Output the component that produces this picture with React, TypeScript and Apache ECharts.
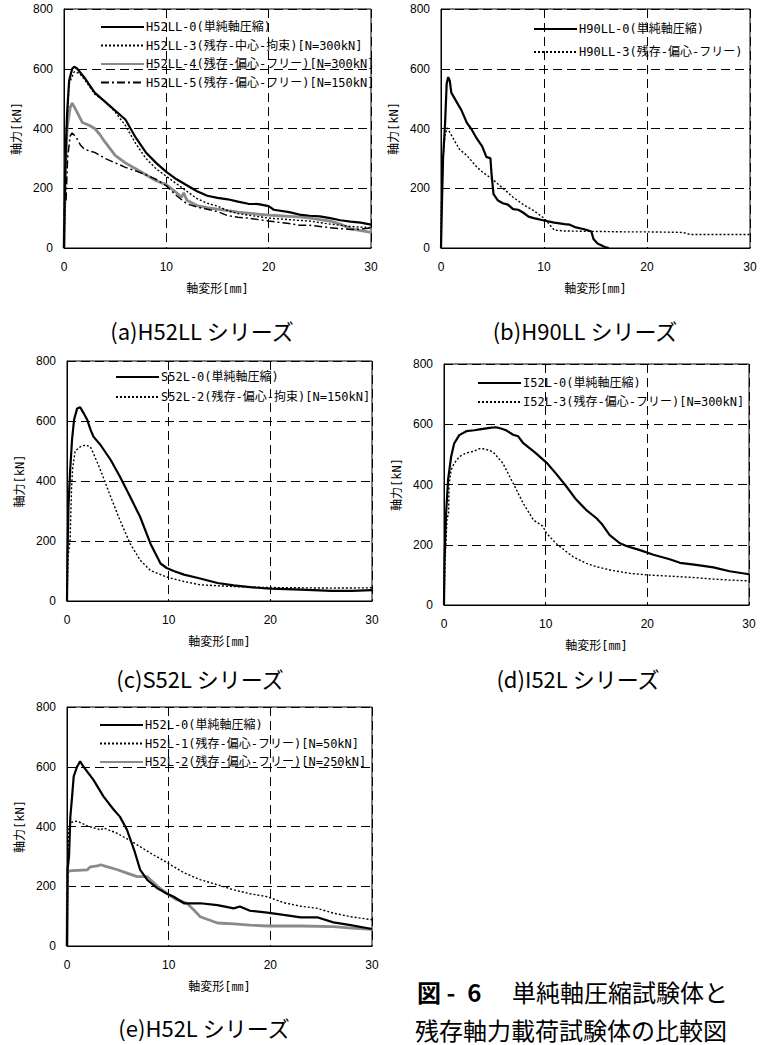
import React, { useEffect, useRef } from "react";
import * as echarts from "echarts";

// ---------- data ----------
const xTicks = [0, 10, 20, 30];
const yTicks = [0, 200, 400, 600, 800];
const xName = "軸変形[㎜]";
const yName = "軸力[kN]";

const captions = ["(a)H52LL シリーズ", "(b)H90LL シリーズ", "(c)S52L シリーズ", "(d)I52L シリーズ", "(e)H52L シリーズ"];
const figTitleHead = "図 -\u20026";
const figTitle1 = "単純軸圧縮試験体と";
const figTitle2 = "残存軸力載荷試験体の比較図";

// (a) H52LL
const namesA = ["H52LL-0(単純軸圧縮)", "H52LL-3(残存-中心-拘束)[N=300kN]", "H52LL-4(残存-偏心-フリー)[N=300kN]", "H52LL-5(残存-偏心-フリー)[N=150kN]"];
const h52ll0 = [[0,0],[0.1,250],[0.3,450],[0.5,560],[0.8,600],[1.0,607],[1.3,600],[2,570],[3,520],[4,490],[5,460],[6,430],[7,370],[8,320],[9,285],[10,255],[11,230],[12,210],[13,190],[14,175],[15,168],[16,163],[17,155],[18,148],[19,147],[20,140],[20.5,128],[22,120],[23,112],[24,108],[25,106],[26,100],[27,93],[28,88],[29,85],[30,78]];
const h52ll3 = [[0,0],[0.2,350],[0.5,550],[1,590],[1.5,585],[2,565],[3,515],[4,490],[5,455],[6,410],[7,350],[8,300],[9,265],[10,240],[11,215],[12,190],[13,165],[14,150],[15,140],[16,125],[17,115],[18,110],[19,105],[20,100],[22,95],[24,90],[26,80],[28,72],[30,68]];
const h52ll4 = [[0,0],[0.1,200],[0.3,400],[0.6,470],[0.8,485],[1.2,460],[1.8,420],[2.5,410],[3,400],[3.5,380],[4,355],[5,310],[6,285],[7,265],[8,245],[9,225],[10,212],[11,185],[11.5,170],[11.7,185],[12,160],[13,142],[14,135],[15,130],[16,125],[17,120],[18,117],[19,113],[20,110],[21,108],[22,106],[23,104],[24,100],[25,95],[26,90],[27,80],[28,65],[29,58],[30,52]];
const h52ll5 = [[0,0],[0.05,150],[0.2,160],[0.35,300],[0.6,375],[0.8,385],[1.2,370],[1.6,345],[2,330],[3,320],[4,300],[5,285],[6,270],[7,258],[8,245],[9,230],[10,208],[11,175],[12,148],[13,137],[14,130],[15,122],[16,108],[17,103],[18,100],[19,95],[20,90],[21,86],[22,82],[23,76],[24,76],[25,72],[26,68],[27,65],[28,62],[29,63],[30,67]];

// (b) H90LL
const namesB = ["H90LL-0(単純軸圧縮)", "H90LL-3(残存-偏心-フリー)"];
const h90ll0 = [[0,0],[0.1,160],[0.2,300],[0.4,420],[0.55,550],[0.7,572],[0.85,560],[1,520],[1.5,490],[2,460],[2.5,420],[3,395],[3.5,365],[4,340],[4.4,305],[4.8,300],[4.9,250],[5.1,180],[5.5,160],[6,150],[6.5,145],[7,130],[7.5,128],[8,118],[8.5,105],[9,100],[10,92],[11,85],[12,80],[12.5,78],[13,70],[14,62],[14.6,55],[14.8,30],[15.2,15],[16,2],[16.3,0]];
const h90ll3 = [[0,0],[0.05,150],[0.2,300],[0.4,380],[0.6,402],[0.9,385],[1.3,360],[1.8,330],[2.5,310],[3,290],[3.5,270],[4,255],[5,230],[6,200],[7,170],[8,145],[9,125],[10,100],[10.5,80],[11,60],[12,57],[14,56],[16,55],[18,54],[20,54],[22,53],[23.5,52],[24.2,45],[26,45],[28,45],[30,45]];

// (c) S52L
const namesC = ["S52L-0(単純軸圧縮)", "S52L-2(残存-偏心-拘束)[N=150kN]"];
const s52l0 = [[0,0],[0.05,150],[0.15,320],[0.3,430],[0.5,540],[0.7,605],[1,642],[1.3,646],[1.6,628],[2,603],[2.3,572],[2.6,548],[3.3,520],[4.3,470],[5.2,415],[6.2,348],[7.2,280],[8.2,192],[9.2,125],[9.8,110],[10.5,100],[11.5,88],[13,76],[14.8,60],[16.4,52],[18,46],[20,41],[23,38],[26,34],[28,34],[30,36]];
const s52l2 = [[0,0],[0.1,150],[0.3,200],[0.45,380],[0.55,440],[0.8,500],[1.3,514],[1.8,520],[2.3,514],[2.6,492],[3.3,436],[4.3,347],[5.2,270],[6.2,192],[7.2,136],[8.2,102],[9.8,80],[11.5,65],[13.1,54],[16.4,48],[19.7,45],[23,44],[26,43],[30,44]];

// (d) I52L
const namesD = ["I52L-0(単純軸圧縮)", "I52L-3(残存-偏心-フリー)[N=300kN]"];
const i52l0 = [[0,0],[0.05,140],[0.2,300],[0.4,415],[0.7,492],[1,536],[1.5,564],[2.2,577],[3,580],[3.5,583],[4.5,588],[5.1,590],[5.6,586],[6.1,580],[6.8,565],[7.3,560],[7.8,537],[9,505],[10.1,472],[11,437],[12,395],[13,350],[14,315],[15,288],[15.5,270],[16.3,232],[17.3,205],[18,195],[19.2,183],[20.6,167],[22.2,152],[23.2,140],[24.8,133],[26.5,125],[28.1,112],[30,102]];
const i52l3 = [[0,0],[0.1,150],[0.3,290],[0.45,300],[0.5,400],[0.7,448],[1,470],[1.5,492],[2.2,505],[2.9,510],[3.5,519],[4,518],[4.8,509],[5.8,470],[6.8,404],[7.8,337],[8.8,282],[9.7,262],[10.1,238],[11,205],[12,178],[12.7,160],[14,138],[15,127],[16.5,115],[18.3,105],[19.9,100],[21.5,97],[23.2,94],[25,90],[26.5,86],[28,83],[30,80]];

// (e) H52L
const namesE = ["H52L-0(単純軸圧縮)", "H52L-1(残存-偏心-フリー)[N=50kN]", "H52L-2(残存-偏心-フリー)[N=250kN]"];
const h52l0 = [[0,0],[0.05,255],[0.2,300],[0.33,433],[0.5,500],[0.66,568],[1,601],[1.3,618],[1.6,601],[2.6,556],[3.6,500],[4.6,456],[5.2,433],[5.9,389],[6.6,322],[7.2,255],[7.9,221],[8.9,193],[9.8,176],[10.5,165],[11.5,143],[13.1,143],[14.8,137],[16.4,126],[17,132],[18,118],[19.7,112],[21.3,104],[23,96],[24.6,96],[26.2,79],[27.9,70],[30,57]];
const h52l1 = [[0,0],[0.1,300],[0.2,400],[0.5,415],[1,418],[2,402],[3,392],[3.3,388],[3.6,395],[4.9,378],[6.6,345],[8.2,311],[9.8,280],[11.5,245],[13.1,222],[14.8,205],[16.4,188],[18,175],[19.7,165],[21.3,145],[23,133],[24.6,126],[26.2,110],[27.9,98],[30,88]];
const h52l2 = [[0,0],[0.05,250],[0.5,252],[1,253],[2,255],[2.3,265],[3,268],[3.3,272],[3.9,266],[4.9,256],[5.9,244],[6.9,232],[7.9,232],[8.9,200],[9.8,176],[10.8,155],[11.8,143],[12.5,120],[13.1,98],[14.8,77],[16.4,74],[18,70],[19.7,67],[23,67],[26.2,65],[28,60],[30,56]];

// ---------- styles ----------
const MONO_JP = "'DejaVu Sans Mono', 'Noto Sans CJK JP', sans-serif";
const JP = "'Noto Sans CJK JP', sans-serif";
const NUM = "'Liberation Sans', Arial, sans-serif";

const SOLID = { color: "#000", width: 2.2, type: "solid" as any };
const DOT = { color: "#000", width: 1.4, type: [2, 2] as any };
const GREY = { color: "#8a8a8a", width: 2.8, type: "solid" as any };
const DASHDOT = { color: "#000", width: 1.5, type: [8, 3, 2, 3] as any };

const grids = [
  { left: 64, top: 9, width: 307, height: 239 },
  { left: 441, top: 9, width: 309, height: 239 },
  { left: 67, top: 361, width: 305, height: 240 },
  { left: 444, top: 364, width: 305, height: 241 },
  { left: 67, top: 707, width: 305, height: 239 },
];

const legendPos = [
  { left: 100, top: 21, gap: 6.5 },
  { left: 533, top: 23, gap: 11 },
  { left: 115, top: 371, gap: 8 },
  { left: 477, top: 377, gap: 7 },
  { left: 99, top: 719, gap: 6.5 },
];

const captionPos = [
  [202, 330], [585, 330], [200, 678], [578, 678], [204, 1027],
];

export default function App() {
  const ref = useRef<HTMLDivElement>(null);

  useEffect(() => {
    if (!ref.current) return;
    const chart = echarts.init(ref.current, undefined, { renderer: "svg" });

    const panels = [
      { names: namesA, data: [h52ll0, h52ll3, h52ll4, h52ll5], styles: [SOLID, DOT, GREY, DASHDOT] },
      { names: namesB, data: [h90ll0, h90ll3], styles: [SOLID, DOT] },
      { names: namesC, data: [s52l0, s52l2], styles: [SOLID, DOT] },
      { names: namesD, data: [i52l0, i52l3], styles: [SOLID, DOT] },
      { names: namesE, data: [h52l0, h52l1, h52l2], styles: [SOLID, DOT, GREY] },
    ];

    const splitStyle = { color: "#000", width: 1, type: [9, 5] as any };

    const xAxis = grids.map((_, i) => ({
      gridIndex: i,
      type: "value",
      min: xTicks[0],
      max: xTicks[xTicks.length - 1],
      interval: xTicks[1] - xTicks[0],
      name: xName,
      nameLocation: "middle",
      nameGap: 35,
      nameTextStyle: { color: "#000", fontSize: 12, fontFamily: MONO_JP },
      axisLine: { show: true, onZero: false, lineStyle: { color: "#000", width: 1 } },
      axisTick: { show: false },
      axisLabel: { color: "#000", fontSize: 12, fontFamily: NUM, margin: 13 },
      splitLine: { show: true, lineStyle: splitStyle },
    }));

    const yAxis = grids.map((_, i) => ({
      gridIndex: i,
      type: "value",
      min: yTicks[0],
      max: yTicks[yTicks.length - 1],
      interval: yTicks[1] - yTicks[0],
      name: yName,
      nameLocation: "middle",
      nameGap: 41,
      nameTextStyle: { color: "#000", fontSize: 12, fontFamily: MONO_JP },
      axisLine: { show: true, onZero: false, lineStyle: { color: "#000", width: 1 } },
      axisTick: { show: false },
      axisLabel: { color: "#000", fontSize: 12, fontFamily: NUM, margin: 11 },
      splitLine: { show: true, lineStyle: splitStyle },
    }));

    const series: any[] = [];
    panels.forEach((p, i) => {
      p.names.forEach((n, k) => {
        series.push({
          type: "line",
          name: n,
          xAxisIndex: i,
          yAxisIndex: i,
          data: p.data[k],
          showSymbol: false,
          symbol: "none",
          lineStyle: p.styles[k],
          itemStyle: { color: p.styles[k].color },
          z: p.styles[k] === GREY ? 2 : 3,
        });
      });
    });

    const legend = panels.map((p, i) => ({
      data: p.names,
      orient: "vertical",
      left: legendPos[i].left,
      top: legendPos[i].top,
      itemGap: legendPos[i].gap,
      itemWidth: 43,
      itemHeight: 12,
      padding: 0,
      selectedMode: false,
      itemStyle: { opacity: 0 },
      textStyle: { color: "#000", fontSize: 12, fontFamily: MONO_JP, padding: [0, 0, 0, -3] },
    }));

    const graphic: any[] = captions.map((c, i) => ({
      type: "text",
      x: captionPos[i][0],
      y: captionPos[i][1],
      style: { text: c, fill: "#000", font: `22px ${JP}`, textAlign: "center", textVerticalAlign: "middle" },
    }));
    graphic.push(
      { type: "text", x: 417, y: 991, style: { text: figTitleHead, fill: "#000", font: `bold 24px ${JP}`, textAlign: "left", textVerticalAlign: "middle" } },
      { type: "text", x: 512, y: 991, style: { text: figTitle1, fill: "#000", font: `24px ${JP}`, textAlign: "left", textVerticalAlign: "middle" } },
      { type: "text", x: 415, y: 1029, style: { text: figTitle2, fill: "#000", font: `24px ${JP}`, textAlign: "left", textVerticalAlign: "middle" } },
    );

    chart.setOption({
      animation: false,
      backgroundColor: "#fff",
      grid: grids.map((g) => ({ ...g, show: true, borderColor: "#000", borderWidth: 1, backgroundColor: "transparent" })),
      xAxis,
      yAxis,
      legend,
      series,
      graphic,
    });

    return () => chart.dispose();
  }, []);

  return <div ref={ref} style={{ position: "fixed", left: 0, top: 0, width: 762, height: 1045, background: "#fff" }} />;
}
